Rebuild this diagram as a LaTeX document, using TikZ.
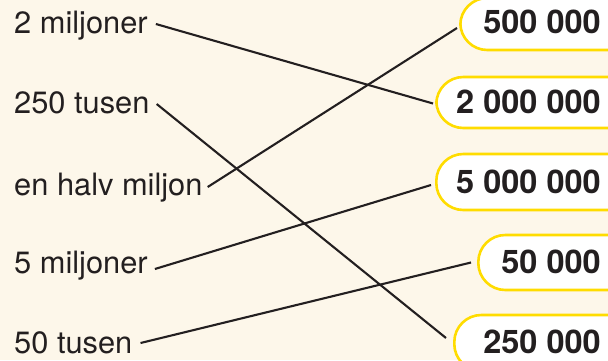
\documentclass[tikz,border=0pt]{standalone}
\usepackage{fontspec}
\setmainfont{TeX Gyre Heros}
\definecolor{bg}{HTML}{FDF7EA}
\definecolor{ylw}{HTML}{FFDC00}
\definecolor{ink}{HTML}{231F20}
\begin{document}
\begin{tikzpicture}[x=1pt,y=-1pt,
  lab/.style={anchor=base west,inner sep=0pt,text=ink,font=\fontsize{30.8}{31}\selectfont},
  num/.style={anchor=base east,inner sep=0pt,text=ink,font=\fontsize{32.5}{33}\selectfont\bfseries},
  box/.style={draw=ylw,line width=2.6pt,fill=white,rounded corners=27pt,anchor=west,minimum width=220pt,inner sep=0pt},
  conn/.style={draw=ink,line width=2.1pt}]
\useasboundingbox (0,0) rectangle (608,360);
\fill[bg] (0,0) rectangle (608,360);
\begin{scope}
\clip (0,0) rectangle (608,360);
% boxes
\node[box,minimum height=52pt] (b1) at (459,24) {};
\node[box,minimum height=51pt] (b2) at (435,102.5) {};
\node[box,minimum height=56pt] (b3) at (435,182) {};
\node[box,minimum height=55pt] (b4) at (477,262.5) {};
\node[box,minimum height=56pt] (b5) at (453,343) {};
% numbers
\node[num] (n1) at (601,33) {500 000};
\node[num] (n2) at (601,113) {2 000 000};
\node[num] (n3) at (601,193) {5 000 000};
\node[num] (n4) at (601,273) {50 000};
\node[num] (n5) at (601,353) {250 000};
% labels
\node[lab] (l1) at (14,33) {2 miljoner};
\node[lab] (l2) at (14,113) {250 tusen};
\node[lab] (l3) at (14,195) {en halv miljon};
\node[lab] (l4) at (14,273) {5 miljoner};
\node[lab] (l5) at (14,353) {50 tusen};
% connectors
\draw[conn] ([shift={(8pt,9pt)}]l1.base east) -- ([shift={(-2pt,-1pt)}]b2.west);
\draw[conn] ([shift={(7pt,9pt)}]l2.base east) -- ([shift={(-7pt,5pt)}]b5.west);
\draw[conn] ([shift={(5pt,8pt)}]l3.base east) -- ([shift={(-2pt,-4pt)}]b1.west);
\draw[conn] ([shift={(7pt,4pt)}]l4.base east) -- ([shift={(-4pt,-3pt)}]b3.west);
\draw[conn] ([shift={(8pt,10pt)}]l5.base east) -- ([shift={(-6pt,0pt)}]b4.west);
\end{scope}
\end{tikzpicture}
\end{document}
